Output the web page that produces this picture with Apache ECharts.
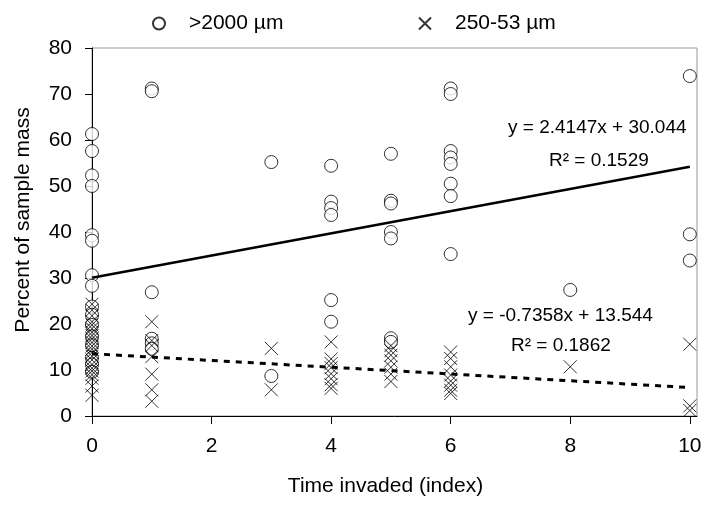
<!DOCTYPE html>
<html><head><meta charset="utf-8">
<script src="https://cdn.jsdelivr.net/npm/echarts@6/dist/echarts.min.js"></script>
<style>html,body{margin:0;padding:0;background:#fff}#c{width:705px;height:508px}</style>
</head><body><div id="c"></div>
<script>
const seriesNames = ['>2000 µm', '250-53 µm'];
const xTicks = [0, 2, 4, 6, 8, 10];
const yTicks = [0, 10, 20, 30, 40, 50, 60, 70, 80];
// >2000 µm : [time index, percent]
const coarseX = [0,0,0,0,0,0,0,0,0,0,0,0,0,0,0,0,
  1,1,1,1,1,1, 3,3, 4,4,4,4,4,4, 5,5,5,5,5,5,5, 6,6,6,6,6,6,6,6, 8, 10,10,10];
const coarseY = [61.3,57.6,52.3,50.0,39.3,38.1,30.6,28.3,23.8,22.0,19.8,17.3,15.4,12.6,11.2,9.6,
  71.2,70.6,26.9,16.8,15.8,14.6, 55.2,8.7, 54.4,46.6,45.2,43.7,25.2,20.5,
  57.0,46.8,46.2,40.0,38.6,16.9,16.1, 71.2,70.0,57.6,56.2,54.8,50.5,47.8,35.2, 27.4, 73.9,39.5,33.8];
// 250-53 µm
const fineX = [0,0,0,0,0,0,0,0,0,0,0,0,0,0,0,0,0,0,0,0,0,0,
  1,1,1,1,1,1,1, 3,3, 4,4,4,4,4,4,4,4, 5,5,5,5,5,5,5, 6,6,6,6,6,6,6,6, 8, 10,10,10];
const fineY = [24.3,23.0,21.8,20.5,19.8,19.0,18.2,17.5,16.8,16.0,15.2,14.5,13.8,13.0,12.2,11.2,10.4,9.8,9.0,8.2,6.5,4.5,
  20.5,16.4,15.3,12.9,9.1,5.7,3.2, 14.7,5.7, 16.1,12.4,11.4,10.5,9.2,8.1,6.8,6.0,
  15.3,14.2,13.2,12.0,10.6,9.1,7.5, 13.9,12.5,10.7,8.9,7.6,6.7,5.6,4.9, 10.7, 15.6,2.2,1.2];
// trend lines: slope, intercept, R²
const coarseFit = [2.4147, 30.044, 0.1529];
const fineFit = [-0.7358, 13.544, 0.1862];
const fitRange = [0, 10];

const font = 'Liberation Sans, Arial, sans-serif';
const pts = (xs, ys) => xs.map((x, i) => [x, ys[i]]);
const line = f => fitRange.map(x => [x, f[0] * x + f[1]]);
const crossPath = 'path://M0 0L10 10M10 0L0 10';

const chart = echarts.init(document.getElementById('c'), null, {renderer: 'canvas'});
chart.setOption({
  backgroundColor: '#fff',
  animation: false,
  textStyle: {fontFamily: font},
  grid: {left: 92, right: 8, top: 48, bottom: 92, show: true, borderColor: '#999', borderWidth: 1, backgroundColor: 'transparent'},
  legend: [
    {left: 147, top: 8, itemWidth: 12, itemHeight: 12, data: [{name: seriesNames[0]}],
     textStyle: {fontSize: 21, color: '#000', fontFamily: font, padding: [0, 0, 0, 19]}},
    {left: 413, top: 8, itemWidth: 12, itemHeight: 12, data: [{name: seriesNames[1]}],
     textStyle: {fontSize: 21, color: '#000', fontFamily: font, padding: [0, 0, 0, 19]}}
  ],
  xAxis: {
    type: 'value', min: 0, max: 10.12,
    name: 'Time invaded (index)', nameLocation: 'middle', nameGap: 60,
    nameTextStyle: {fontSize: 21, color: '#000', fontFamily: font, padding: [0, 18, 0, 0]},
    axisLine: {show: true, lineStyle: {color: '#000', width: 1}},
    axisTick: {show: true, length: 8, lineStyle: {color: '#000'}, customValues: xTicks},
    axisLabel: {fontSize: 21, color: '#000', margin: 20, fontFamily: font, customValues: xTicks},
    splitLine: {show: false}
  },
  yAxis: {
    type: 'value', min: 0, max: 80, interval: 10,
    name: 'Percent of sample mass', nameLocation: 'middle', nameGap: 58,
    nameTextStyle: {fontSize: 21, color: '#000', fontFamily: font, padding: [0, 0, 0, 24]},
    axisLine: {show: true, lineStyle: {color: '#000', width: 1}},
    axisTick: {show: true, length: 7, lineStyle: {color: '#000'}},
    axisLabel: {fontSize: 21, color: '#000', margin: 20, fontFamily: font, customValues: yTicks},
    splitLine: {show: false}
  },
  series: [
    {name: seriesNames[0], type: 'scatter', data: pts(coarseX, coarseY), symbol: 'circle', symbolSize: 13,
     itemStyle: {color: '#fff', borderColor: '#000', borderWidth: 1}, z: 3, clip: false},
    {name: seriesNames[1], type: 'scatter', data: pts(fineX, fineY), symbol: crossPath, symbolSize: 13,
     itemStyle: {color: 'transparent', borderColor: '#000', borderWidth: 1}, z: 4, clip: false},
    {name: 'fit1', type: 'line', data: line(coarseFit), symbol: 'none', silent: true,
     lineStyle: {color: '#000', width: 2.5}, z: 5},
    {name: 'fit2', type: 'line', data: line(fineFit), symbol: 'none', silent: true,
     lineStyle: {color: '#000', width: 3, type: [6, 6]}, z: 5}
  ],
  graphic: [
    {type: 'text', left: 508, top: 118, style: {text: 'y = ' + coarseFit[0] + 'x + ' + coarseFit[1].toFixed(3), font: '19px ' + font, fill: '#000'}},
    {type: 'text', left: 549, top: 151, style: {text: 'R² = ' + coarseFit[2], font: '19px ' + font, fill: '#000'}},
    {type: 'text', left: 468, top: 306, style: {text: 'y = ' + fineFit[0] + 'x + ' + fineFit[1].toFixed(3), font: '19px ' + font, fill: '#000'}},
    {type: 'text', left: 511, top: 336, style: {text: 'R² = ' + fineFit[2], font: '19px ' + font, fill: '#000'}}
  ]
});
</script></body></html>
